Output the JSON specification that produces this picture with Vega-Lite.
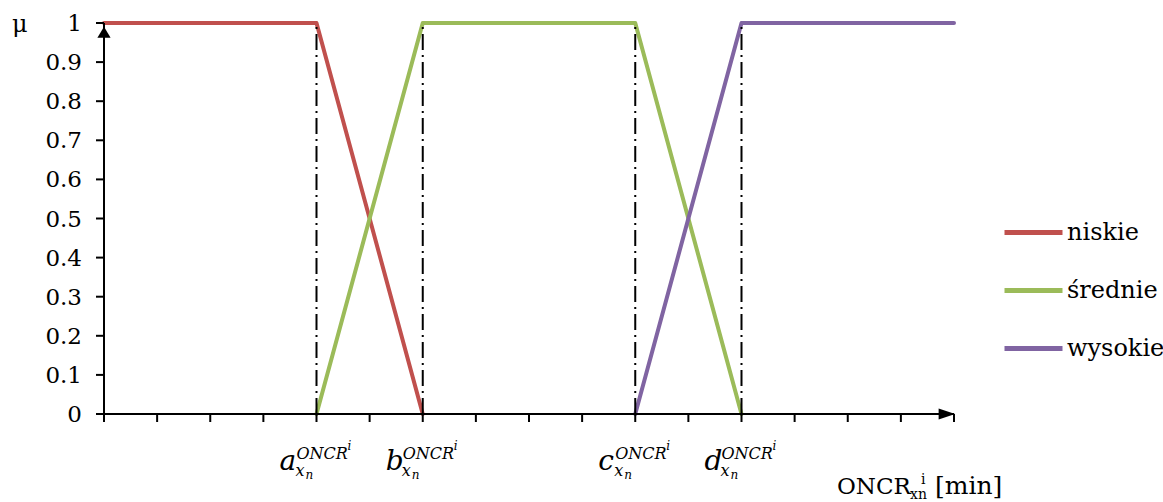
{
  "$schema": "https://vega.github.io/schema/vega-lite/v6.json",
  "width": 850,
  "height": 391,
  "autosize": "none",
  "padding": {"left": 104, "top": 23, "right": 209, "bottom": 88},
  "background": "white",
  "config": {
    "view": {"stroke": null},
    "font": "DejaVu Serif",
    "legend": {"labelFont": "DejaVu Serif"}
  },
  "datasets": {
    "curves": [
      {"set": "niskie", "x": 0, "mu": 1},
      {"set": "niskie", "x": 4, "mu": 1},
      {"set": "niskie", "x": 6, "mu": 0},
      {"set": "średnie", "x": 4, "mu": 0},
      {"set": "średnie", "x": 6, "mu": 1},
      {"set": "średnie", "x": 10, "mu": 1},
      {"set": "średnie", "x": 12, "mu": 0},
      {"set": "wysokie", "x": 10, "mu": 0},
      {"set": "wysokie", "x": 12, "mu": 1},
      {"set": "wysokie", "x": 16, "mu": 1}
    ],
    "cuts": [
      {"x": 4, "letter": "a"},
      {"x": 6, "letter": "b"},
      {"x": 10, "letter": "c"},
      {"x": 12, "letter": "d"}
    ],
    "arrows": [
      {"x": 0, "mu": 1, "dir": "up"},
      {"x": 16, "mu": 0, "dir": "right"}
    ],
    "yticks": [
      {"v": 0}, {"v": 0.1}, {"v": 0.2}, {"v": 0.3}, {"v": 0.4}, {"v": 0.5},
      {"v": 0.6}, {"v": 0.7}, {"v": 0.8}, {"v": 0.9}, {"v": 1}
    ],
    "xticks": [
      {"v": 0}, {"v": 1}, {"v": 2}, {"v": 3}, {"v": 4}, {"v": 5}, {"v": 6}, {"v": 7}, {"v": 8},
      {"v": 9}, {"v": 10}, {"v": 11}, {"v": 12}, {"v": 13}, {"v": 14}, {"v": 15}, {"v": 16}
    ]
  },
  "layer": [
    {
      "data": {"name": "curves"},
      "mark": {"type": "line", "strokeWidth": 4, "strokeCap": "round", "strokeJoin": "round"},
      "encoding": {
        "x": {"field": "x", "type": "quantitative", "scale": {"domain": [0, 16], "nice": false, "zero": false}, "axis": null},
        "y": {"field": "mu", "type": "quantitative", "scale": {"domain": [0, 1], "nice": false}, "axis": null},
        "color": {
          "field": "set", "type": "nominal",
          "scale": {"domain": ["niskie", "średnie", "wysokie"], "range": ["#C0504D", "#9BBB59", "#8064A2"]},
          "legend": {
            "title": null, "orient": "none", "legendX": 898, "legendY": 178, "padding": 0,
            "symbolType": "stroke", "symbolSize": 3364, "symbolStrokeWidth": 5,
            "labelFont": "DejaVu Serif", "labelFontSize": 24, "labelColor": "black",
            "labelOffset": 2, "rowPadding": 14
          }
        }
      }
    },
    {
      "data": {"values": [{}]},
      "mark": {"type": "rule", "color": "black", "strokeWidth": 2},
      "encoding": {
        "x": {"datum": 0, "type": "quantitative", "axis": null},
        "y": {"datum": 0, "type": "quantitative", "axis": null},
        "y2": {"datum": 1}
      }
    },
    {
      "data": {"values": [{}]},
      "mark": {"type": "rule", "color": "black", "strokeWidth": 2},
      "encoding": {
        "x": {"datum": 0, "type": "quantitative", "axis": null},
        "x2": {"datum": 16},
        "y": {"datum": 0, "type": "quantitative", "axis": null}
      }
    },
    {
      "data": {"name": "yticks"},
      "mark": {"type": "point", "shape": "M0,0L-2,0", "size": 64, "filled": false, "stroke": "black", "strokeWidth": 2, "opacity": 1},
      "encoding": {
        "x": {"datum": 0, "type": "quantitative", "axis": null},
        "y": {"field": "v", "type": "quantitative", "axis": null}
      }
    },
    {
      "data": {"name": "xticks"},
      "mark": {"type": "point", "shape": "M0,0L0,2", "size": 64, "filled": false, "stroke": "black", "strokeWidth": 2, "opacity": 1},
      "encoding": {
        "x": {"field": "v", "type": "quantitative", "axis": null},
        "y": {"datum": 0, "type": "quantitative", "axis": null}
      }
    },
    {
      "data": {"name": "yticks"},
      "mark": {"type": "text", "fontSize": 23, "align": "right", "baseline": "middle", "dx": -22, "dy": 1, "color": "black"},
      "encoding": {
        "x": {"datum": 0, "type": "quantitative", "axis": null},
        "y": {"field": "v", "type": "quantitative", "axis": null},
        "text": {"field": "v", "type": "quantitative", "format": "~g"}
      }
    },
    {
      "data": {"values": [{}]},
      "mark": {"type": "text", "text": "μ", "fontSize": 24, "align": "left", "baseline": "alphabetic", "dx": -92, "dy": 9, "color": "black"},
      "encoding": {
        "x": {"datum": 0, "type": "quantitative", "axis": null},
        "y": {"datum": 1, "type": "quantitative", "axis": null}
      }
    },
    {
      "data": {"name": "cuts"},
      "mark": {"type": "rule", "color": "black", "strokeWidth": 2, "strokeDash": [16, 5, 2, 5]},
      "encoding": {
        "x": {"field": "x", "type": "quantitative", "axis": null},
        "y": {"datum": 0, "type": "quantitative", "axis": null},
        "y2": {"datum": 1}
      }
    },
    {
      "data": {"name": "arrows"},
      "mark": {"type": "point", "filled": true, "color": "black", "opacity": 1, "size": 484},
      "encoding": {
        "x": {"field": "x", "type": "quantitative", "axis": null},
        "y": {"field": "mu", "type": "quantitative", "axis": null},
        "shape": {
          "field": "dir", "type": "nominal", "legend": null,
          "scale": {"domain": ["up", "right"], "range": ["M0,0.35L-0.6,1.35L0.6,1.35Z", "M0.1,0L-1.4,-0.5L-1.4,0.5Z"]}
        }
      }
    },
    {
      "data": {"name": "cuts"},
      "mark": {"type": "text", "fontStyle": "italic", "fontSize": 28, "align": "left", "baseline": "alphabetic", "dx": -37, "dy": 56, "color": "black"},
      "encoding": {
        "x": {"field": "x", "type": "quantitative", "axis": null},
        "y": {"datum": 0, "type": "quantitative", "axis": null},
        "text": {"field": "letter"}
      }
    },
    {
      "data": {"name": "cuts"},
      "mark": {"type": "text", "text": "ONCR", "fontStyle": "italic", "fontSize": 16, "align": "left", "baseline": "alphabetic", "dx": -20, "dy": 45, "color": "black"},
      "encoding": {
        "x": {"field": "x", "type": "quantitative", "axis": null},
        "y": {"datum": 0, "type": "quantitative", "axis": null}
      }
    },
    {
      "data": {"name": "cuts"},
      "mark": {"type": "text", "text": "i", "fontStyle": "italic", "fontSize": 12, "align": "left", "baseline": "alphabetic", "dx": 31, "dy": 36, "color": "black"},
      "encoding": {
        "x": {"field": "x", "type": "quantitative", "axis": null},
        "y": {"datum": 0, "type": "quantitative", "axis": null}
      }
    },
    {
      "data": {"name": "cuts"},
      "mark": {"type": "text", "text": "x", "fontStyle": "italic", "fontSize": 16, "align": "left", "baseline": "alphabetic", "dx": -21, "dy": 62, "color": "black"},
      "encoding": {
        "x": {"field": "x", "type": "quantitative", "axis": null},
        "y": {"datum": 0, "type": "quantitative", "axis": null}
      }
    },
    {
      "data": {"name": "cuts"},
      "mark": {"type": "text", "text": "n", "fontStyle": "italic", "fontSize": 12, "align": "left", "baseline": "alphabetic", "dx": -11, "dy": 65, "color": "black"},
      "encoding": {
        "x": {"field": "x", "type": "quantitative", "axis": null},
        "y": {"datum": 0, "type": "quantitative", "axis": null}
      }
    },
    {
      "data": {"values": [{}]},
      "mark": {"type": "text", "text": "ONCR", "fontSize": 23, "align": "left", "baseline": "alphabetic", "dx": -117, "dy": 80, "color": "black"},
      "encoding": {
        "x": {"datum": 16, "type": "quantitative", "axis": null},
        "y": {"datum": 0, "type": "quantitative", "axis": null}
      }
    },
    {
      "data": {"values": [{}]},
      "mark": {"type": "text", "text": "xn", "fontSize": 14, "align": "left", "baseline": "alphabetic", "dx": -44, "dy": 85, "color": "black"},
      "encoding": {
        "x": {"datum": 16, "type": "quantitative", "axis": null},
        "y": {"datum": 0, "type": "quantitative", "axis": null}
      }
    },
    {
      "data": {"values": [{}]},
      "mark": {"type": "text", "text": "i", "fontSize": 14, "align": "left", "baseline": "alphabetic", "dx": -33, "dy": 70, "color": "black"},
      "encoding": {
        "x": {"datum": 16, "type": "quantitative", "axis": null},
        "y": {"datum": 0, "type": "quantitative", "axis": null}
      }
    },
    {
      "data": {"values": [{}]},
      "mark": {"type": "text", "text": "[min]", "fontSize": 25, "align": "left", "baseline": "alphabetic", "dx": -19, "dy": 80, "color": "black"},
      "encoding": {
        "x": {"datum": 16, "type": "quantitative", "axis": null},
        "y": {"datum": 0, "type": "quantitative", "axis": null}
      }
    }
  ]
}
